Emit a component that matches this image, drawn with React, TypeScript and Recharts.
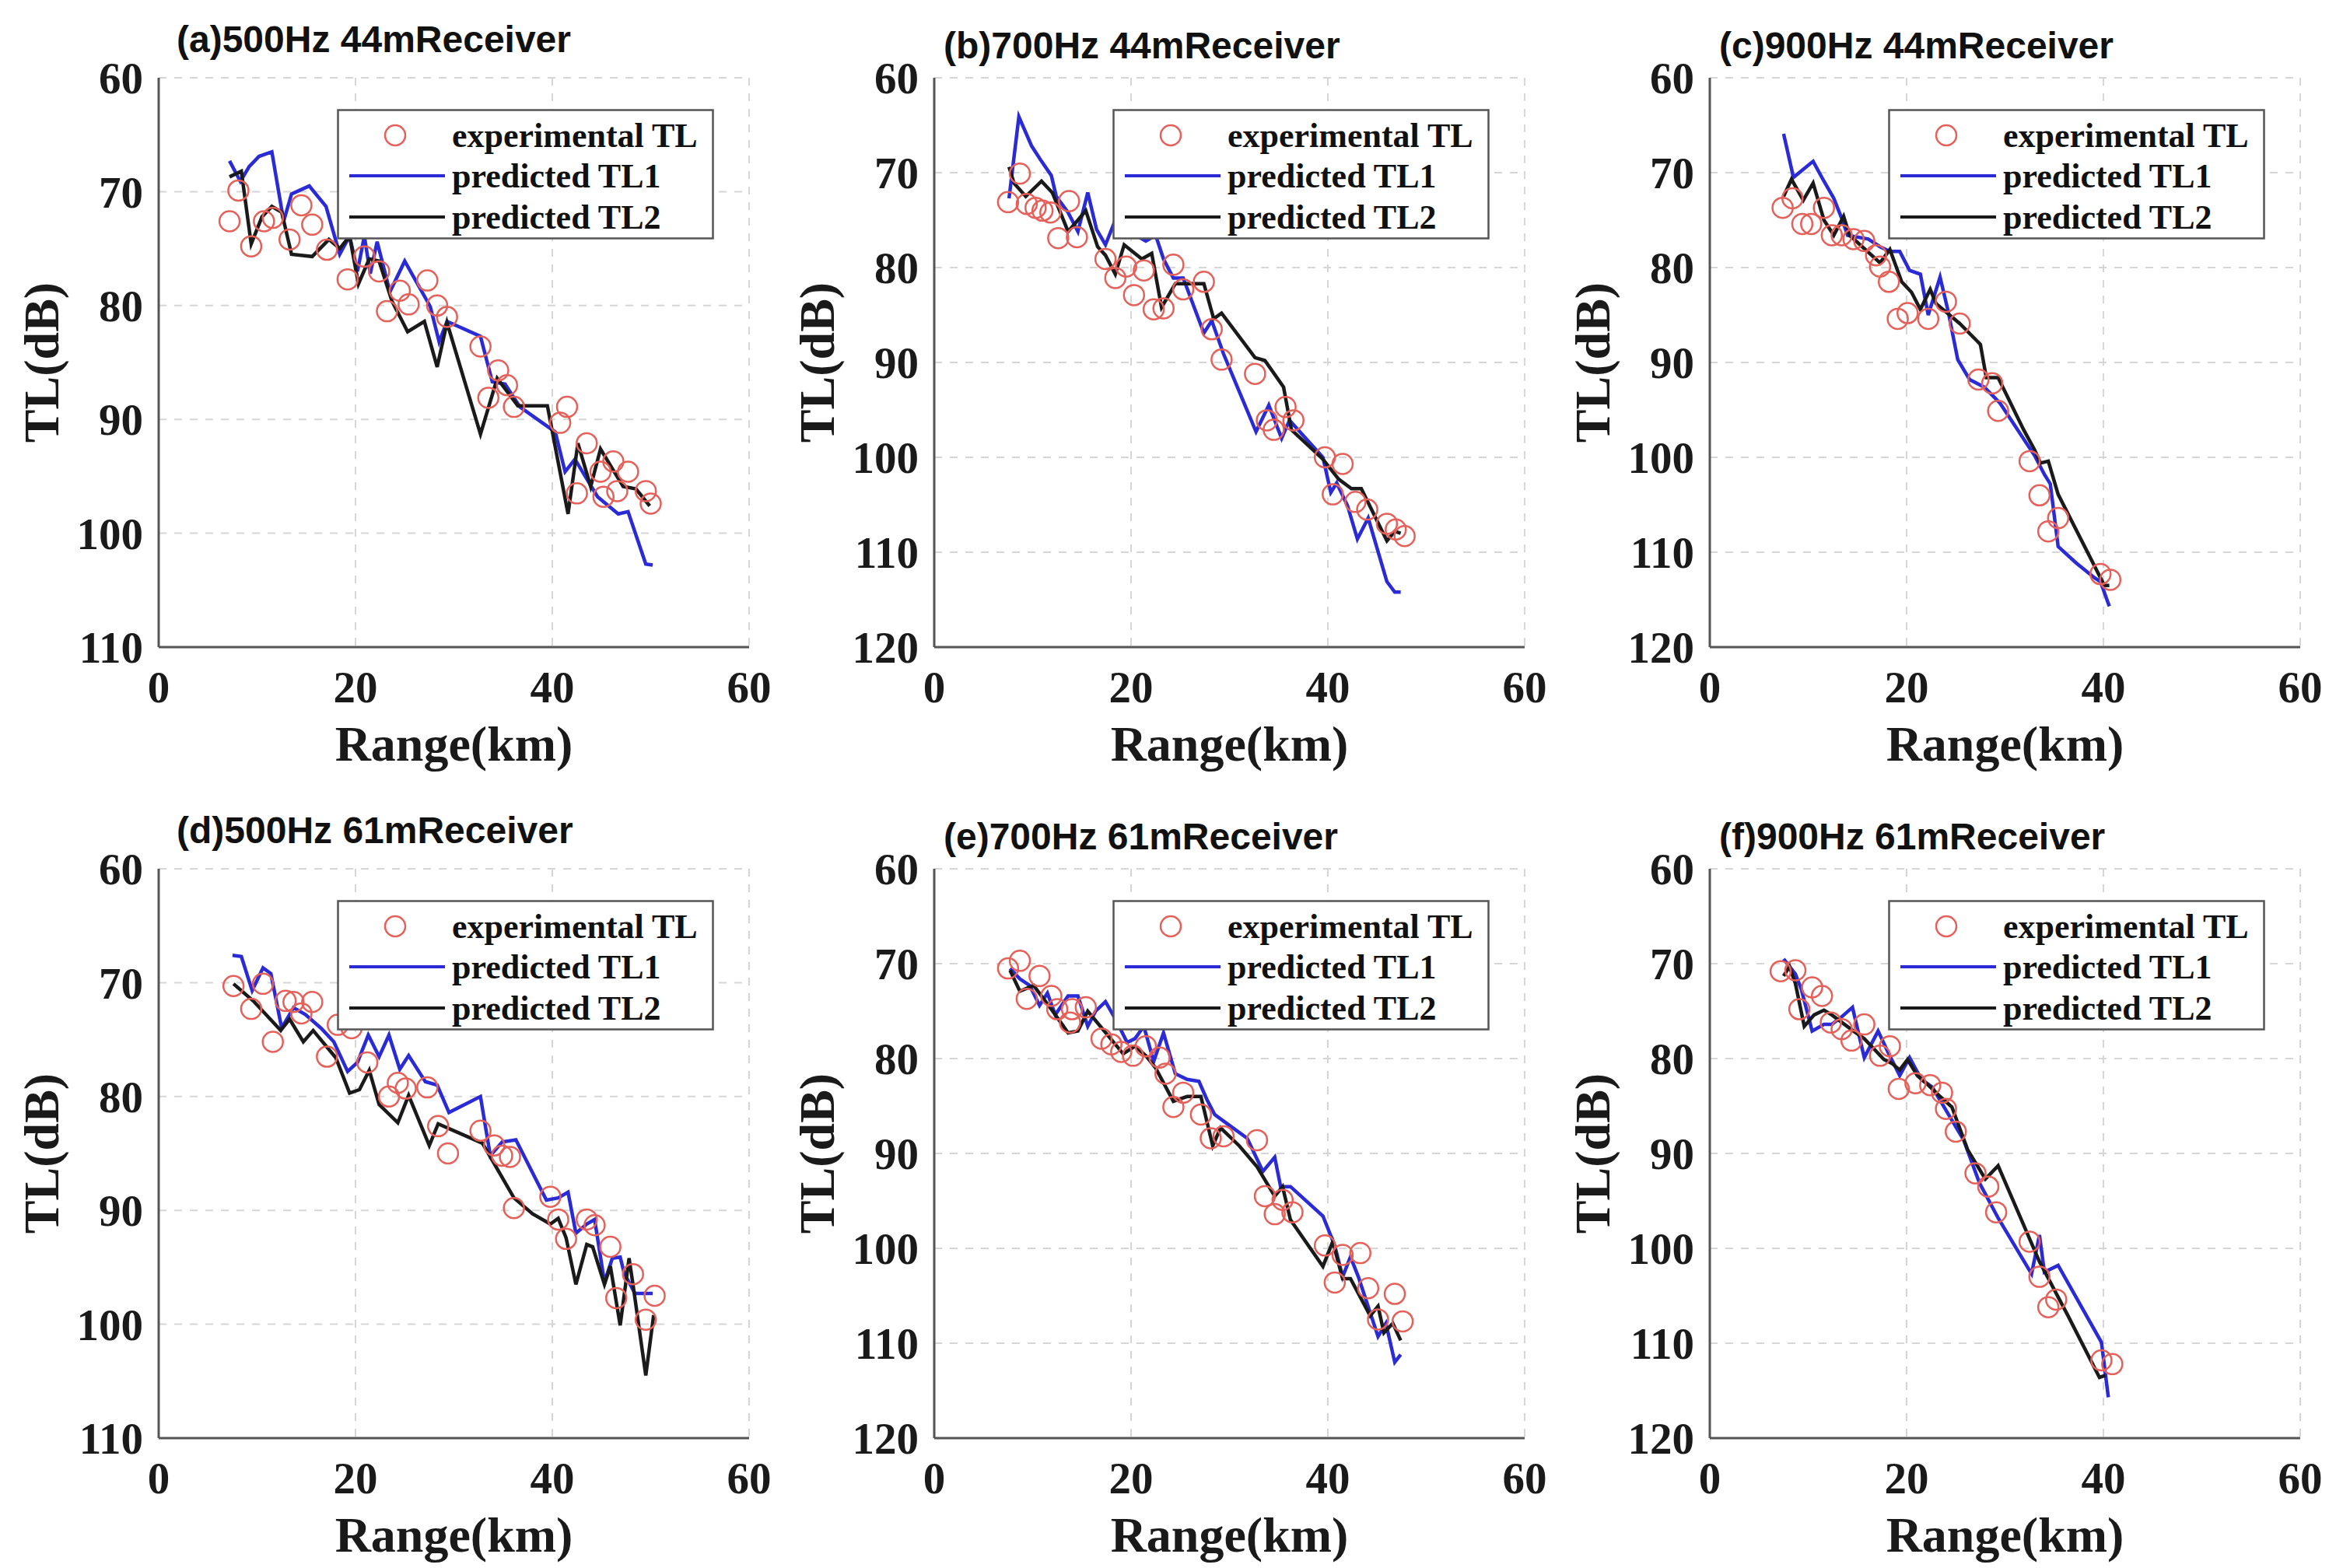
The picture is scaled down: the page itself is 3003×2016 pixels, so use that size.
import React from "react";
import { CartesianGrid, ComposedChart, Line, XAxis, YAxis } from "recharts";

// [range km, TL dB] pairs
const expA = [[7.2,72.6],[8.1,69.9],[9.4,74.8],[10.7,72.6],[11.6,72.3],[13.3,74.2],[14.5,71.2],[15.6,72.9],[17.1,75.1],[19.2,77.7],[20.9,75.7],[22.4,77.0],[23.2,80.5],[24.5,78.7],[25.4,79.9],[27.3,77.8],[28.3,80.0],[29.3,81.0],[32.7,83.6],[33.5,88.1],[34.5,85.7],[35.4,87.0],[36.1,88.9],[40.8,90.3],[41.5,88.9],[42.5,96.5],[43.5,92.1],[44.9,94.6],[45.2,96.8],[46.2,93.7],[46.6,96.3],[47.7,94.6],[49.5,96.3],[50.0,97.4]];
const tl1A = [[7.2,67.3],[8.3,69.1],[9.2,67.8],[10.2,66.9],[11.5,66.5],[12.7,72.6],[13.5,70.2],[15.3,69.5],[17.0,71.3],[18.4,75.5],[19.4,73.9],[20.2,77.0],[20.9,73.9],[21.5,77.2],[22.2,74.4],[23.5,78.8],[25.0,76.1],[27.6,80.1],[28.5,83.2],[29.3,81.4],[32.7,82.7],[33.9,86.7],[35.2,86.9],[36.7,88.9],[40.3,91.1],[41.3,94.6],[42.3,93.5],[44.6,96.8],[46.7,98.3],[47.7,98.1],[49.5,102.7],[50.2,102.8]];
const tl2A = [[7.2,68.7],[8.4,68.2],[9.4,74.6],[10.5,72.2],[11.5,71.3],[12.5,71.8],[13.5,75.5],[15.6,75.7],[17.3,74.2],[18.4,75.0],[19.4,73.9],[20.3,78.1],[21.4,75.9],[22.4,76.1],[23.7,79.6],[25.3,82.3],[27.0,81.4],[28.3,85.4],[29.3,81.5],[32.7,91.3],[34.4,86.4],[36.5,88.8],[39.5,88.8],[41.6,98.3],[42.6,92.1],[43.9,95.9],[44.9,92.6],[47.2,95.9],[48.5,96.1],[49.9,97.6]];

const expB = [[7.5,73.1],[8.7,70.1],[9.4,73.3],[10.3,73.7],[11.0,74.0],[11.8,74.2],[12.6,76.9],[13.7,73.0],[14.5,76.8],[17.4,79.1],[18.4,81.1],[19.5,79.9],[20.3,82.9],[21.3,80.3],[22.3,84.4],[23.3,84.3],[24.3,79.7],[25.3,82.3],[27.4,81.5],[28.2,86.5],[29.2,89.7],[32.6,91.2],[33.8,96.1],[34.5,97.1],[35.7,94.7],[36.5,96.1],[39.7,100.0],[40.5,103.9],[41.5,100.7],[42.8,104.7],[44.0,105.5],[46.0,107.0],[46.9,107.6],[47.8,108.3]];
const tl1B = [[7.6,72.7],[8.6,64.1],[9.9,67.2],[10.9,68.8],[11.9,70.3],[12.4,72.5],[13.6,74.2],[14.6,76.2],[15.6,72.1],[16.5,76.0],[17.4,77.6],[18.4,75.0],[19.5,75.8],[20.5,76.6],[21.5,77.2],[22.5,76.6],[23.3,79.1],[24.3,81.1],[25.3,81.1],[27.4,86.9],[28.2,85.6],[29.4,89.1],[32.7,97.3],[34.0,94.5],[35.3,98.0],[36.1,96.1],[39.5,100.0],[40.3,103.7],[40.9,102.7],[42.0,105.1],[43.0,108.6],[44.1,106.4],[46.0,113.1],[46.8,114.2],[47.4,114.2]];
const tl2B = [[7.6,69.4],[8.1,71.1],[9.3,72.5],[10.9,70.9],[12.0,72.1],[13.6,76.2],[14.6,75.0],[15.4,74.0],[16.6,77.8],[17.4,78.7],[18.4,80.7],[19.3,77.6],[21.1,79.1],[22.1,78.5],[23.1,84.2],[24.5,81.7],[27.4,81.7],[28.4,85.4],[29.2,84.8],[32.6,89.5],[33.6,89.8],[35.5,92.6],[36.3,97.1],[39.5,100.2],[41.1,102.3],[42.4,103.3],[43.4,103.3],[46.0,108.8],[46.8,107.8],[47.4,108.0]];

const expC = [[7.4,73.7],[8.4,72.7],[9.4,75.4],[10.3,75.4],[11.6,73.7],[12.4,76.6],[13.4,76.6],[14.6,77.0],[15.7,77.2],[16.9,78.7],[17.3,79.9],[18.2,81.5],[19.1,85.4],[20.1,84.8],[22.2,85.4],[24.0,83.6],[25.4,85.9],[27.3,91.8],[28.7,92.2],[29.3,95.1],[32.5,100.4],[33.5,104.0],[34.4,107.8],[35.4,106.4],[39.7,112.3],[40.7,112.9]];
const tl1C = [[7.5,65.9],[8.5,70.5],[10.5,68.8],[11.6,70.9],[12.6,72.7],[13.4,74.8],[14.0,76.6],[16.1,77.0],[17.3,77.8],[18.3,78.3],[19.3,78.3],[20.3,80.3],[21.4,80.7],[22.2,85.0],[23.4,81.0],[24.2,84.5],[25.2,89.7],[26.4,91.8],[27.9,92.6],[29.5,94.3],[33.0,99.8],[34.0,101.8],[34.6,102.8],[35.4,109.4],[37.2,111.1],[39.1,112.7],[39.7,113.1],[40.6,115.7]];
const tl2C = [[7.5,72.5],[8.3,70.7],[9.5,72.9],[10.5,71.1],[11.6,75.0],[12.6,76.6],[13.6,74.6],[14.2,76.6],[17.3,79.5],[18.3,78.1],[19.5,81.5],[20.5,82.6],[21.4,84.4],[22.4,82.3],[23.0,83.8],[25.4,85.9],[27.5,88.1],[28.1,91.6],[29.3,91.6],[31.9,97.1],[33.0,99.2],[33.6,100.6],[34.4,100.4],[35.4,103.9],[40.1,113.5],[40.6,113.5]];

const expD = [[7.6,70.3],[9.4,72.3],[10.6,70.1],[11.6,75.2],[12.9,71.6],[13.7,71.7],[14.5,72.7],[15.6,71.7],[17.1,76.5],[18.2,73.7],[19.6,74.0],[21.2,77.0],[23.4,80.0],[24.3,78.8],[25.1,79.3],[27.3,79.2],[28.4,82.6],[29.4,85.0],[32.7,83.0],[34.1,84.3],[34.9,85.2],[35.7,85.3],[36.1,89.8],[39.8,88.8],[40.6,90.8],[41.4,92.5],[43.5,90.8],[44.3,91.3],[45.9,93.2],[46.5,97.7],[48.2,95.6],[49.5,99.6],[50.4,97.5]];
const tl1D = [[7.5,67.6],[8.4,67.7],[9.5,70.7],[10.6,68.7],[11.4,69.2],[12.5,74.0],[13.7,72.2],[14.9,72.8],[16.5,74.0],[17.8,75.2],[19.2,77.8],[20.2,77.0],[21.3,74.6],[22.4,76.5],[23.4,74.6],[24.5,77.6],[25.4,76.4],[27.1,78.7],[28.3,79.0],[29.5,81.4],[32.7,80.0],[33.7,85.2],[34.9,84.0],[36.3,83.8],[39.4,89.1],[40.6,88.9],[41.6,88.4],[42.4,92.0],[43.5,91.2],[44.3,90.8],[45.3,96.3],[46.1,94.2],[46.9,94.1],[47.3,95.5],[48.4,97.3],[50.2,97.3]];
const tl2D = [[7.6,70.1],[9.6,71.6],[10.8,72.7],[12.4,74.2],[13.3,73.2],[14.7,75.2],[15.7,74.2],[18.0,76.6],[19.4,79.7],[20.4,79.4],[21.4,77.7],[22.4,80.7],[24.3,82.3],[25.4,79.9],[27.5,84.3],[28.4,82.4],[32.9,84.1],[36.1,88.9],[38.0,90.3],[39.8,91.2],[40.6,90.7],[41.4,92.4],[42.4,96.5],[43.5,93.0],[44.1,93.2],[45.3,96.5],[45.9,94.9],[46.9,100.1],[47.8,94.2],[48.2,96.5],[49.5,104.5],[50.3,99.2]];

const expE = [[7.5,70.5],[8.7,69.7],[9.4,73.7],[10.7,71.3],[11.9,73.4],[12.5,74.8],[13.8,76.2],[14.0,74.8],[15.4,74.6],[17.0,77.9],[18.0,78.5],[19.0,79.3],[20.2,79.7],[21.5,78.7],[22.9,79.9],[23.5,81.6],[24.3,85.1],[25.3,83.6],[27.1,85.9],[28.1,88.4],[29.4,88.2],[32.8,88.6],[33.6,94.5],[34.6,96.4],[35.4,94.9],[36.4,96.2],[39.7,99.7],[40.7,103.6],[41.5,100.7],[43.3,100.5],[44.1,104.2],[45.1,107.5],[46.8,104.8],[47.6,107.7]];
const tl1E = [[7.7,70.5],[8.7,71.6],[9.7,72.3],[10.7,74.4],[11.5,73.1],[12.3,75.4],[13.6,73.4],[14.6,73.4],[15.6,76.6],[16.4,75.0],[17.4,74.0],[18.4,75.8],[19.6,78.3],[20.4,77.9],[21.3,76.6],[22.3,80.3],[23.3,77.3],[24.5,81.6],[25.7,82.2],[26.9,82.4],[27.7,84.3],[28.5,85.9],[29.8,86.9],[31.8,88.4],[33.4,91.9],[34.6,90.4],[35.2,93.5],[36.2,93.5],[39.5,96.6],[40.7,99.7],[41.5,103.0],[42.3,100.9],[43.1,103.0],[45.1,109.3],[45.9,107.9],[46.8,112.0],[47.4,111.2]];
const tl2E = [[7.7,70.7],[8.7,72.9],[10.1,72.3],[11.9,74.8],[13.0,76.4],[13.6,77.3],[14.6,77.1],[15.6,75.0],[17.6,77.5],[19.2,79.5],[20.4,78.7],[21.5,79.7],[22.5,81.0],[24.3,84.5],[25.7,84.0],[27.1,84.0],[28.3,89.2],[29.1,87.3],[31.0,89.2],[32.8,91.4],[34.6,94.5],[35.4,93.5],[36.2,97.0],[39.5,101.9],[40.5,99.3],[41.5,103.2],[42.3,103.2],[44.3,107.1],[45.1,106.1],[45.7,108.9],[46.6,107.9],[47.4,109.7]];

const expF = [[7.2,70.8],[8.7,70.7],[9.1,74.8],[10.4,72.5],[11.4,73.4],[12.3,76.2],[13.4,76.9],[14.4,78.1],[15.7,76.4],[17.3,79.7],[18.3,78.7],[19.2,83.2],[20.9,82.6],[22.4,82.8],[23.6,83.6],[24.0,85.3],[25.0,87.7],[27.0,92.1],[28.3,93.5],[29.1,96.2],[32.5,99.3],[33.5,103.0],[34.4,106.2],[35.2,105.4],[39.8,111.8],[40.9,112.2]];
const tl1F = [[7.5,69.5],[8.7,71.1],[9.3,72.7],[10.4,77.1],[11.6,76.4],[12.4,76.4],[13.4,75.6],[14.5,74.6],[15.7,79.9],[17.1,77.1],[18.1,79.3],[19.3,81.8],[20.3,79.9],[21.5,82.2],[22.6,83.0],[23.8,85.1],[25.8,88.6],[27.4,93.1],[29.3,96.8],[32.7,102.7],[33.5,98.6],[34.0,102.5],[35.4,101.8],[39.8,109.9],[40.5,115.7]];
const tl2F = [[7.5,71.3],[8.1,70.3],[8.7,72.1],[9.6,76.6],[10.6,75.4],[11.6,74.9],[12.4,75.4],[14.6,77.1],[15.7,77.9],[17.7,80.1],[18.5,80.5],[19.3,81.2],[20.1,80.1],[21.1,81.8],[22.2,82.8],[23.4,84.0],[24.6,85.1],[26.2,89.6],[28.0,92.7],[29.3,91.3],[33.5,101.4],[36.4,107.1],[39.6,113.6],[40.2,113.4]];

const titles = ["(a)500Hz 44mReceiver", "(b)700Hz 44mReceiver", "(c)900Hz 44mReceiver", "(d)500Hz 61mReceiver", "(e)700Hz 61mReceiver", "(f)900Hz 61mReceiver"];
const xTicks = [0, 20, 40, 60];
const yTicks110 = [60, 70, 80, 90, 100, 110];
const yTicks120 = [60, 70, 80, 90, 100, 110, 120];

const toPts = (arr: number[][]) => arr.map(([x, y]) => ({ x, y }));

const PLOT_W = 759;
const PLOT_H = 732;
const lefts = [204, 1201, 2198];
const tops = [100, 1117];

const panels = [
  { exp: expA, tl1: tl1A, tl2: tl2A, ticks: yTicks110 },
  { exp: expB, tl1: tl1B, tl2: tl2B, ticks: yTicks120 },
  { exp: expC, tl1: tl1C, tl2: tl2C, ticks: yTicks120 },
  { exp: expD, tl1: tl1D, tl2: tl2D, ticks: yTicks110 },
  { exp: expE, tl1: tl1E, tl2: tl2E, ticks: yTicks120 },
  { exp: expF, tl1: tl1F, tl2: tl2F, ticks: yTicks120 },
];

const RED = "#e6605a";
const BLUE = "#2a2ad6";
const BLACK = "#1a1a1a";
const serif = "'Liberation Serif', 'Times New Roman', serif";
const sans = "'Liberation Sans', Arial, sans-serif";

// hollow red ring drawn as the line's dot, so the predicted lines sit on top
const ring = (p: any) => <circle key={p.index} cx={p.cx} cy={p.cy} r={13} fill="none" stroke={RED} strokeWidth={2.5} />;

function LegendBox({ left, top }: { left: number; top: number }) {
  const rows = [34, 86, 139];
  const txt = { fontFamily: serif, fontWeight: 700, fontSize: 44, fill: "#111" } as const;
  return (
    <svg width={485} height={168} style={{ position: "absolute", left, top }}>
      <rect x={1.5} y={1.5} width={482} height={165} fill="#fff" stroke="#555" strokeWidth={2.5} />
      <circle cx={75} cy={rows[0]} r={13} fill="none" stroke={RED} strokeWidth={2.5} />
      <line x1={16} x2={139} y1={rows[1]} y2={rows[1]} stroke={BLUE} strokeWidth={4} />
      <line x1={16} x2={139} y1={rows[2]} y2={rows[2]} stroke={BLACK} strokeWidth={4} />
      <text x={148} y={rows[0]} dy="0.33em" {...txt}>experimental TL</text>
      <text x={148} y={rows[1]} dy="0.33em" {...txt}>predicted TL1</text>
      <text x={148} y={rows[2]} dy="0.33em" {...txt}>predicted TL2</text>
    </svg>
  );
}

function Panel({ idx }: { idx: number }) {
  const p = panels[idx];
  const col = idx % 3;
  const row = Math.floor(idx / 3);
  const pl = lefts[col];
  const pt = tops[row];
  const yMax = p.ticks[p.ticks.length - 1];
  const tickStyle = { fontFamily: serif, fontWeight: 700, fontSize: 57, fill: "#1a1a1a" };
  return (
    <>
      <div style={{ position: "absolute", left: pl + (col === 0 ? 23 : 12), top: pt - (col === 0 ? 50 : 42), transform: "translateY(-50%)", fontFamily: sans, fontWeight: 700, fontSize: 48, color: "#111", whiteSpace: "nowrap" }}>
        {titles[idx]}
      </div>
      <div style={{ position: "absolute", left: pl - 180, top: pt - 40 }}>
        <ComposedChart width={180 + PLOT_W + 50} height={40 + PLOT_H + 100} margin={{ top: 40, right: 50, left: 0, bottom: 0 }}>
          <CartesianGrid stroke="#d6d6d6" strokeWidth={2} strokeDasharray="10 10" />
          <XAxis dataKey="x" type="number" domain={[0, 60]} ticks={xTicks} height={100} tickLine={false} tickSize={0} tickMargin={31} axisLine={{ stroke: "#555", strokeWidth: 3 }} tick={tickStyle} allowDataOverflow />
          <YAxis dataKey="y" type="number" reversed domain={[60, yMax]} ticks={p.ticks} width={180} tickLine={false} tickSize={0} tickMargin={20} axisLine={{ stroke: "#555", strokeWidth: 3 }} tick={tickStyle} allowDataOverflow interval={0} />
          <Line data={toPts(p.exp)} dataKey="y" stroke="none" dot={ring} activeDot={false} isAnimationActive={false} />
          <Line data={toPts(p.tl1)} dataKey="y" type="linear" stroke={BLUE} strokeWidth={4.5} dot={false} activeDot={false} isAnimationActive={false} />
          <Line data={toPts(p.tl2)} dataKey="y" type="linear" stroke={BLACK} strokeWidth={4.5} dot={false} activeDot={false} isAnimationActive={false} />
        </ComposedChart>
      </div>
      <LegendBox left={pl + 229} top={pt + 40} />
      <div style={{ position: "absolute", left: pl - 150, top: pt + PLOT_H / 2, transform: "translate(-50%, -50%) rotate(-90deg)", fontFamily: serif, fontWeight: 700, fontSize: 64, color: "#1a1a1a", whiteSpace: "nowrap" }}>
        TL(dB)
      </div>
      <div style={{ position: "absolute", left: pl + PLOT_W / 2, top: pt + PLOT_H + 125, transform: "translate(-50%, -50%)", fontFamily: serif, fontWeight: 700, fontSize: 64, color: "#1a1a1a", whiteSpace: "nowrap" }}>
        Range(km)
      </div>
    </>
  );
}

export default function App() {
  return (
    <div style={{ position: "absolute", left: 0, top: 0, width: 3003, height: 2016, background: "#fff", overflow: "hidden" }}>
      {panels.map((_, i) => <Panel key={i} idx={i} />)}
    </div>
  );
}
